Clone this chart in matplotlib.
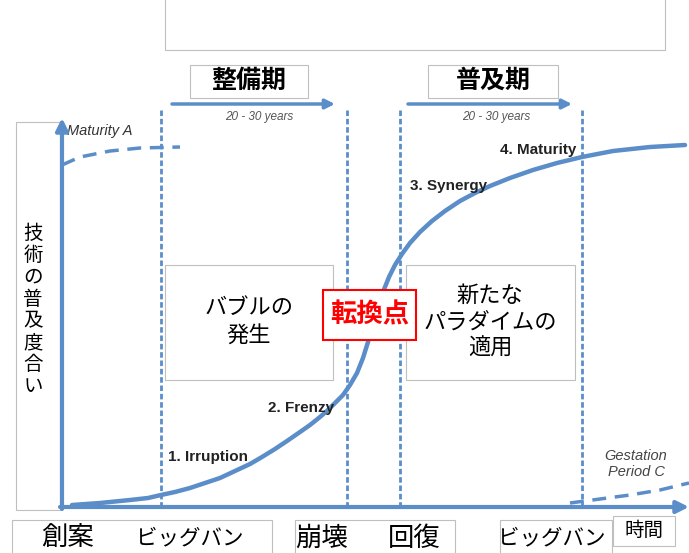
import matplotlib
matplotlib.use("Agg")
import matplotlib.pyplot as plt
from matplotlib.patches import Rectangle

plt.rcParams['font.family'] = ['Noto Sans CJK JP', 'DejaVu Sans']

BLUE = '#5B8DC9'

# ---- data (pixel-like diagram coordinates) ----
curve_x = [72, 100, 130, 148, 161, 175, 190, 205, 220, 235, 250, 262, 275, 287,
           300, 310, 320, 328, 335, 343, 350, 357, 363, 368, 373, 378, 383, 389,
           395, 402, 410, 420, 432, 445, 460, 475, 490, 510, 533, 557, 582, 613,
           650, 685]
curve_y = [505, 503, 500, 498, 495, 492, 488, 483, 478, 471, 464, 457, 449, 441,
           432, 425, 417, 410, 403, 395, 385, 373, 358, 342, 325, 308, 292, 277,
           265, 254, 243, 232, 221, 211, 201, 193, 186, 178, 170, 163, 157, 151,
           147, 145]
maturityA_x = [62, 80, 110, 140, 180]
maturityA_y = [165, 157, 151, 148, 147]
gestation_x = [570, 600, 630, 660, 689]
gestation_y = [503, 499, 495, 490, 483]
phase_x = [161, 347, 400, 582]
stage_labels = ['1. Irruption', '2. Frenzy', '3. Synergy', '4. Maturity']
stage_pos = [(168, 457), (268, 408), (410, 186), (500, 150)]
period_labels = ['整備期', '普及期']
period_arrows = [(172, 335), (408, 572)]
bottom_kanji = ['創案', '崩壊', '回復']
bottom_kanji_x = [68, 322, 414]
bottom_kana = ['ビッグバン', 'ビッグバン']
bottom_kana_x = [190, 552]

fig = plt.figure(figsize=(6.89, 5.53), dpi=100)
ax = fig.add_axes([0, 0, 1, 1])
ax.set_xlim(0, 689)
ax.set_ylim(553, 0)
ax.axis('off')

def box(x0, y0, x1, y1, ec='#BFBFBF', lw=0.8, z=1, fc='none'):
    ax.add_patch(Rectangle((x0, y0), x1 - x0, y1 - y0, fill=(fc != 'none'),
                           facecolor=fc, edgecolor=ec, lw=lw, zorder=z))

# top empty box
box(165, -5, 665, 50)

# left label box
box(16, 122, 60, 510)
ax.text(33, 310, '技\n術\nの\n普\n及\n度\n合\nい', ha='center', va='center',
        fontsize=14, linespacing=1.05)

# period label boxes
box(190, 65, 308, 98, z=3, fc='white')
box(428, 65, 558, 98, z=3, fc='white')
ax.text(249, 81, period_labels[0], ha='center', va='center', fontsize=18,
        fontweight='bold', zorder=4)
ax.text(493, 81, period_labels[1], ha='center', va='center', fontsize=18,
        fontweight='bold', zorder=4)

for (a, b) in period_arrows:
    ax.annotate('', xy=(b, 104), xytext=(a, 104),
                arrowprops=dict(arrowstyle='-|>', color=BLUE, lw=2.5,
                                mutation_scale=14, shrinkA=0, shrinkB=0))
    ax.text((a + b) / 2 + 6, 117, '20 - 30 years', ha='center', va='center',
            fontsize=8.5, style='italic', color='#555555', family='Liberation Sans')

# vertical phase lines
for x in phase_x:
    ax.plot([x, x], [110, 507], color=BLUE, lw=2, ls=(0, (2, 1)), zorder=2)

# axes arrows
ax.annotate('', xy=(62, 118), xytext=(62, 509),
            arrowprops=dict(arrowstyle='-|>', color=BLUE, lw=3,
                            mutation_scale=18, shrinkA=0, shrinkB=0), zorder=5)
ax.annotate('', xy=(689, 507), xytext=(60, 507),
            arrowprops=dict(arrowstyle='-|>', color=BLUE, lw=3,
                            mutation_scale=18, shrinkA=0, shrinkB=0), zorder=5)

# middle boxes
box(165, 265, 333, 380, z=2, fc='white')
box(406, 265, 575, 380, z=2, fc='white')
ax.text(249, 321, 'バブルの\n発生', ha='center', va='center', fontsize=16,
        linespacing=1.25, zorder=3)
ax.text(490, 322, '新たな\nパラダイムの\n適用', ha='center', va='center',
        fontsize=16, linespacing=1.2, zorder=3)

# S curve
ax.plot(curve_x, curve_y, color=BLUE, lw=3.2, solid_capstyle='round',
        solid_joinstyle='round', zorder=4)
ax.plot(maturityA_x, maturityA_y, color=BLUE, lw=2.5, ls=(0, (4, 2.5)), zorder=4)
ax.plot(gestation_x, gestation_y, color=BLUE, lw=2.5, ls=(0, (4, 2.5)), zorder=4)

# turning point
box(323, 290, 416, 340, ec='#FF0000', lw=1.5, z=6, fc='white')
ax.text(369.5, 315, '転換点', ha='center', va='center', fontsize=19,
        fontweight='bold', color='#FF0000', zorder=7)

for lab, (x, y) in zip(stage_labels, stage_pos):
    ax.text(x, y, lab, ha='left', va='center', fontsize=11, fontweight='bold',
            family='Liberation Sans', color='#222222', zorder=5)

ax.text(67, 131, 'Maturity A', ha='left', va='center', fontsize=10.5,
        style='italic', family='Liberation Sans', color='#333333')
ax.text(636, 464, 'Gestation\nPeriod C', ha='center', va='center', fontsize=10.5,
        style='italic', family='Liberation Sans', color='#444444', linespacing=1.2)

# bottom label boxes
box(12, 520, 272, 560, fc='white', z=3)
box(295, 520, 455, 560, fc='white', z=3)
box(500, 520, 612, 560, fc='white', z=3)
box(613, 516, 675, 546, fc='white', z=3)
for lab, x in zip(bottom_kanji, bottom_kanji_x):
    ax.text(x, 538, lab, ha='center', va='center', fontsize=19, zorder=4)
for lab, x in zip(bottom_kana, bottom_kana_x):
    ax.text(x, 538, lab, ha='center', va='center', fontsize=15.5, zorder=4)
ax.text(644, 530, '時間', ha='center', va='center', fontsize=14, zorder=4)

fig.savefig('out.png', dpi=100)
